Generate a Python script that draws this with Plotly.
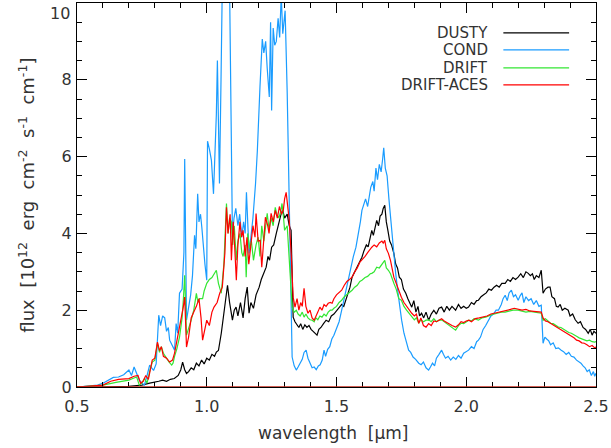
import plotly.graph_objects as go

# ---------------- data ----------------
cond = [(0.50,0.0),(0.55,0.02),(0.58,0.05),(0.60,0.10),(0.62,0.18),(0.64,0.25),(0.66,0.26),(0.68,0.32),(0.70,0.44),(0.71,0.30),(0.72,0.52),(0.73,0.35),(0.74,0.18),(0.75,0.10),(0.76,0.05),(0.77,0.30),(0.78,0.57),(0.795,0.43),(0.805,0.60),(0.815,1.87),(0.822,1.60),(0.83,1.85),(0.838,1.80),(0.845,1.45),(0.852,1.55),(0.857,1.22),(0.866,1.10),(0.876,0.96),(0.882,1.65),(0.888,1.40),(0.895,2.44),(0.905,2.55),(0.912,3.5),(0.915,5.94),(0.922,1.74),(0.93,2.1),(0.938,2.4),(0.945,2.9),(0.953,3.95),(0.958,3.6),(0.965,5.03),(0.970,4.3),(0.976,4.5),(0.981,4.16),(0.987,3.6),(0.993,3.2),(1.000,2.78),(1.003,6.4),(1.010,6.2),(1.018,5.9),(1.026,5.03),(1.032,6.0),(1.037,7.1),(1.041,8.5),(1.045,6.8),(1.049,5.3),(1.055,8.0),(1.062,11.5),(1.075,12.0),(1.087,11.0),(1.099,3.9),(1.105,4.4),(1.112,4.65),(1.12,4.2),(1.127,4.5),(1.135,3.9),(1.142,4.3),(1.148,4.0),(1.153,5.07),(1.158,4.4),(1.163,3.48),(1.170,3.9),(1.178,4.4),(1.188,5.3),(1.195,6.15),(1.205,7.8),(1.214,9.06),(1.220,8.7),(1.227,9.0),(1.233,8.3),(1.241,7.55),(1.246,9.5),(1.250,7.2),(1.256,9.35),(1.262,8.9),(1.268,9.0),(1.275,9.6),(1.281,9.1),(1.287,10.2),(1.293,9.2),(1.298,9.6),(1.302,9.8),(1.310,7.66),(1.329,0.78),(1.337,0.55),(1.345,0.44),(1.352,0.52),(1.36,0.62),(1.368,0.72),(1.375,0.90),(1.383,0.96),(1.39,0.75),(1.398,0.60),(1.406,0.50),(1.414,0.52),(1.422,0.45),(1.43,0.55),(1.437,0.58),(1.445,0.70),(1.452,0.96),(1.458,0.80),(1.466,0.98),(1.474,1.05),(1.482,1.25),(1.49,1.35),(1.502,1.56),(1.51,1.70),(1.52,2.00),(1.528,2.25),(1.536,2.52),(1.545,2.80),(1.555,3.10),(1.565,3.40),(1.575,3.64),(1.585,4.00),(1.592,4.30),(1.598,4.60),(1.605,4.75),(1.612,4.90),(1.62,4.70),(1.625,4.94),(1.632,5.20),(1.64,5.35),(1.645,5.10),(1.652,5.70),(1.658,5.40),(1.665,5.80),(1.672,5.60),(1.678,5.95),(1.682,6.23),(1.688,5.70),(1.695,5.50),(1.702,4.90),(1.709,4.34),(1.718,3.60),(1.728,2.96),(1.738,2.40),(1.745,2.00),(1.751,1.74),(1.76,1.40),(1.768,1.20),(1.778,0.96),(1.786,0.90),(1.795,0.78),(1.805,0.72),(1.817,0.62),(1.826,0.58),(1.835,0.65),(1.845,0.50),(1.855,0.44),(1.862,0.52),(1.87,0.62),(1.878,0.55),(1.885,0.75),(1.895,0.85),(1.905,0.96),(1.912,0.85),(1.92,0.75),(1.93,0.80),(1.94,0.70),(1.95,0.78),(1.96,0.72),(1.97,0.82),(1.98,0.75),(1.99,0.88),(2.0,0.92),(2.009,0.96),(2.02,1.05),(2.03,1.00),(2.04,1.18),(2.047,1.22),(2.055,1.30),(2.065,1.50),(2.075,1.60),(2.086,1.74),(2.095,1.85),(2.105,1.90),(2.115,2.00),(2.124,2.00),(2.135,2.15),(2.142,2.30),(2.15,2.39),(2.158,2.25),(2.165,2.45),(2.174,2.52),(2.182,2.35),(2.19,2.40),(2.2,2.26),(2.208,2.38),(2.215,2.45),(2.222,2.20),(2.23,2.35),(2.24,2.25),(2.25,2.30),(2.26,2.15),(2.27,2.25),(2.28,2.10),(2.289,2.13),(2.296,1.14),(2.303,1.30),(2.31,1.25),(2.318,1.20),(2.325,1.10),(2.335,1.15),(2.345,1.00),(2.355,1.02),(2.366,0.96),(2.375,0.92),(2.385,0.85),(2.395,0.90),(2.405,0.80),(2.415,0.78),(2.425,0.70),(2.435,0.65),(2.442,0.62),(2.45,0.55),(2.458,0.50),(2.466,0.40),(2.474,0.45),(2.482,0.30),(2.49,0.40),(2.495,0.28),(2.5,0.36)]

dusty = [(0.50,0),(0.60,0.0),(0.70,0.02),(0.75,0.05),(0.78,0.10),(0.80,0.12),(0.815,0.15),(0.83,0.18),(0.845,0.15),(0.86,0.20),(0.875,0.22),(0.89,0.30),(0.90,0.45),(0.907,0.65),(0.915,0.45),(0.922,0.35),(0.93,0.40),(0.94,0.50),(0.95,0.45),(0.96,0.62),(0.97,0.55),(0.98,0.70),(0.99,0.60),(1.00,0.75),(1.01,0.70),(1.02,0.85),(1.03,0.80),(1.037,0.91),(1.045,0.95),(1.056,1.40),(1.066,1.92),(1.073,2.30),(1.08,2.65),(1.088,2.20),(1.099,1.74),(1.106,2.00),(1.113,2.08),(1.12,1.85),(1.13,2.20),(1.14,1.80),(1.148,2.30),(1.156,2.60),(1.163,1.92),(1.17,2.20),(1.18,2.05),(1.19,2.40),(1.202,2.60),(1.21,2.80),(1.218,2.95),(1.229,3.12),(1.236,3.40),(1.242,3.30),(1.25,3.64),(1.258,3.70),(1.268,4.00),(1.275,4.20),(1.282,4.40),(1.287,4.52),(1.293,4.60),(1.30,4.40),(1.31,4.50),(1.318,4.20),(1.325,4.08),(1.333,1.82),(1.34,1.70),(1.348,1.60),(1.355,1.55),(1.362,1.65),(1.37,1.50),(1.378,1.62),(1.386,1.55),(1.394,1.60),(1.402,1.50),(1.41,1.45),(1.418,1.40),(1.425,1.35),(1.432,1.50),(1.44,1.55),(1.45,1.65),(1.46,1.74),(1.47,1.70),(1.48,1.85),(1.49,1.90),(1.502,2.00),(1.51,2.05),(1.52,2.15),(1.528,2.10),(1.536,2.26),(1.545,2.50),(1.552,2.60),(1.56,2.86),(1.57,3.00),(1.58,3.10),(1.59,3.25),(1.598,3.38),(1.606,3.55),(1.615,3.70),(1.622,3.65),(1.63,3.90),(1.636,4.08),(1.642,3.95),(1.65,4.25),(1.655,4.34),(1.662,4.20),(1.668,4.45),(1.675,4.50),(1.68,4.65),(1.686,4.73),(1.692,4.30),(1.698,4.08),(1.705,3.80),(1.712,3.70),(1.721,3.48),(1.728,3.20),(1.735,3.10),(1.742,2.86),(1.75,2.80),(1.758,2.55),(1.767,2.44),(1.775,2.30),(1.782,2.20),(1.79,2.08),(1.798,2.25),(1.806,1.95),(1.814,2.10),(1.82,1.85),(1.828,1.92),(1.836,1.80),(1.845,1.95),(1.855,1.74),(1.865,1.90),(1.875,2.00),(1.885,1.90),(1.895,2.05),(1.905,2.08),(1.915,1.95),(1.925,2.10),(1.935,2.00),(1.945,2.10),(1.959,2.00),(1.97,2.15),(1.98,2.05),(1.99,2.10),(2.0,2.05),(2.009,2.08),(2.02,2.20),(2.03,2.15),(2.04,2.25),(2.047,2.26),(2.057,2.35),(2.067,2.40),(2.077,2.45),(2.087,2.55),(2.097,2.52),(2.107,2.60),(2.117,2.65),(2.127,2.60),(2.137,2.70),(2.15,2.70),(2.16,2.80),(2.17,2.75),(2.18,2.85),(2.19,2.80),(2.2,2.86),(2.21,2.95),(2.22,2.85),(2.23,3.00),(2.239,2.96),(2.247,2.90),(2.255,2.95),(2.262,2.80),(2.27,2.90),(2.28,2.85),(2.289,3.04),(2.296,2.44),(2.305,2.55),(2.315,2.60),(2.323,2.60),(2.33,2.35),(2.34,2.30),(2.347,2.10),(2.354,2.08),(2.362,2.15),(2.37,2.00),(2.38,2.05),(2.393,2.00),(2.40,1.85),(2.41,1.90),(2.42,1.75),(2.431,1.66),(2.44,1.70),(2.45,1.55),(2.46,1.50),(2.47,1.40),(2.478,1.50),(2.485,1.35),(2.492,1.45),(2.5,1.40)]

drift = [(0.50,0),(0.55,0.02),(0.60,0.05),(0.65,0.12),(0.68,0.15),(0.70,0.18),(0.715,0.22),(0.73,0.26),(0.74,0.05),(0.75,0.10),(0.76,0.22),(0.77,0.10),(0.78,0.40),(0.79,0.65),(0.80,0.70),(0.81,1.14),(0.818,0.90),(0.825,1.05),(0.833,0.88),(0.84,0.80),(0.845,0.78),(0.855,0.65),(0.865,0.57),(0.87,0.62),(0.876,0.80),(0.885,1.00),(0.895,1.30),(0.905,1.80),(0.91,2.30),(0.915,2.91),(0.922,1.35),(0.93,1.50),(0.94,1.74),(0.95,2.00),(0.96,2.44),(0.966,2.20),(0.972,2.30),(0.984,2.30),(0.99,2.50),(1.00,2.70),(1.01,2.80),(1.02,2.85),(1.037,3.04),(1.045,2.70),(1.056,2.44),(1.066,3.20),(1.076,4.78),(1.082,4.00),(1.088,4.40),(1.095,4.30),(1.10,3.70),(1.106,4.20),(1.114,3.30),(1.12,3.80),(1.128,4.00),(1.135,3.50),(1.14,3.40),(1.148,3.70),(1.152,2.86),(1.158,4.00),(1.165,3.60),(1.172,3.80),(1.18,3.30),(1.19,3.70),(1.198,3.90),(1.205,3.40),(1.212,4.20),(1.22,3.80),(1.228,4.30),(1.233,4.52),(1.24,4.10),(1.248,4.40),(1.256,4.20),(1.264,4.68),(1.27,4.50),(1.278,4.40),(1.286,4.60),(1.29,4.78),(1.296,4.40),(1.30,4.08),(1.31,4.20),(1.318,3.20),(1.329,2.08),(1.337,1.95),(1.345,2.00),(1.352,1.90),(1.36,1.85),(1.368,1.95),(1.375,1.82),(1.382,1.90),(1.39,1.80),(1.398,1.75),(1.406,1.74),(1.414,1.70),(1.42,1.80),(1.428,1.75),(1.436,1.85),(1.444,1.82),(1.452,1.90),(1.46,1.85),(1.468,1.95),(1.476,2.00),(1.483,2.00),(1.49,2.05),(1.50,2.10),(1.51,2.20),(1.52,2.26),(1.53,2.35),(1.54,2.40),(1.55,2.45),(1.56,2.52),(1.57,2.60),(1.58,2.65),(1.59,2.75),(1.598,2.78),(1.61,2.85),(1.62,2.88),(1.63,2.95),(1.636,2.96),(1.645,3.00),(1.655,3.12),(1.665,3.10),(1.675,3.20),(1.68,3.25),(1.686,3.30),(1.692,3.10),(1.70,3.04),(1.708,2.95),(1.715,2.80),(1.721,2.70),(1.73,2.55),(1.74,2.30),(1.75,2.26),(1.76,2.10),(1.77,2.00),(1.78,1.92),(1.79,1.85),(1.80,1.75),(1.808,1.80),(1.817,1.66),(1.825,1.75),(1.835,1.70),(1.845,1.74),(1.855,1.75),(1.865,1.70),(1.875,1.78),(1.885,1.70),(1.895,1.74),(1.905,1.75),(1.915,1.70),(1.925,1.65),(1.935,1.60),(1.945,1.55),(1.959,1.48),(1.97,1.60),(1.98,1.66),(1.99,1.65),(2.0,1.70),(2.01,1.74),(2.02,1.72),(2.03,1.78),(2.047,1.74),(2.06,1.80),(2.075,1.82),(2.09,1.87),(2.105,1.90),(2.12,1.92),(2.135,1.95),(2.15,1.95),(2.165,1.97),(2.18,2.00),(2.2,2.00),(2.215,1.98),(2.23,1.95),(2.245,1.97),(2.26,1.95),(2.275,1.93),(2.289,1.92),(2.296,1.74),(2.305,1.78),(2.315,1.72),(2.325,1.66),(2.335,1.65),(2.345,1.60),(2.355,1.56),(2.365,1.55),(2.375,1.50),(2.385,1.45),(2.395,1.42),(2.405,1.40),(2.415,1.35),(2.425,1.32),(2.435,1.28),(2.445,1.25),(2.455,1.22),(2.465,1.20),(2.475,1.22),(2.485,1.18),(2.495,1.17),(2.5,1.18)]

drift_aces = [(0.50,0),(0.55,0.02),(0.58,0.05),(0.60,0.05),(0.63,0.15),(0.66,0.20),(0.70,0.22),(0.72,0.28),(0.735,0.30),(0.745,0.10),(0.755,0.15),(0.765,0.30),(0.775,0.20),(0.785,0.50),(0.79,0.70),(0.80,0.75),(0.81,1.17),(0.818,0.95),(0.825,1.05),(0.833,0.80),(0.845,0.75),(0.857,0.65),(0.868,0.70),(0.876,0.88),(0.888,1.30),(0.90,1.70),(0.91,2.10),(0.915,2.34),(0.922,1.04),(0.93,1.30),(0.94,1.80),(0.95,1.95),(0.96,2.10),(0.97,2.30),(0.978,1.80),(0.984,1.22),(0.992,1.45),(1.00,1.74),(1.01,1.60),(1.02,1.95),(1.028,2.08),(1.04,2.20),(1.05,2.44),(1.06,2.60),(1.07,3.50),(1.076,4.68),(1.082,4.00),(1.09,4.50),(1.095,3.30),(1.102,4.30),(1.108,3.60),(1.114,2.78),(1.12,3.70),(1.128,4.30),(1.134,3.90),(1.14,4.08),(1.148,3.40),(1.155,3.90),(1.162,3.20),(1.17,3.70),(1.178,4.20),(1.186,3.90),(1.19,4.52),(1.198,3.80),(1.206,3.82),(1.212,3.12),(1.22,3.90),(1.226,4.42),(1.235,4.20),(1.24,4.00),(1.248,4.52),(1.256,4.30),(1.264,4.60),(1.272,4.40),(1.28,4.70),(1.288,4.50),(1.295,4.60),(1.30,4.90),(1.306,5.07),(1.312,4.60),(1.318,4.34),(1.325,3.50),(1.333,2.34),(1.34,2.08),(1.348,2.30),(1.355,2.00),(1.362,2.20),(1.368,2.10),(1.375,2.57),(1.382,2.10),(1.39,1.92),(1.398,2.00),(1.406,1.80),(1.414,1.74),(1.42,1.85),(1.428,1.95),(1.436,2.08),(1.444,2.00),(1.452,2.15),(1.46,2.10),(1.468,2.18),(1.476,2.20),(1.483,2.18),(1.49,2.30),(1.50,2.40),(1.51,2.45),(1.52,2.52),(1.53,2.65),(1.54,2.75),(1.55,2.80),(1.56,2.86),(1.57,3.00),(1.58,3.10),(1.59,3.25),(1.598,3.30),(1.61,3.40),(1.62,3.50),(1.63,3.60),(1.636,3.64),(1.645,3.70),(1.655,3.65),(1.665,3.75),(1.675,3.80),(1.68,3.75),(1.686,3.82),(1.692,3.60),(1.70,3.48),(1.708,3.30),(1.715,3.10),(1.721,2.86),(1.73,2.70),(1.74,2.50),(1.75,2.34),(1.76,2.20),(1.77,2.10),(1.78,2.00),(1.79,1.92),(1.80,1.85),(1.808,1.90),(1.817,1.66),(1.825,1.80),(1.835,1.60),(1.845,1.56),(1.855,1.65),(1.865,1.60),(1.875,1.72),(1.885,1.70),(1.895,1.74),(1.905,1.78),(1.915,1.72),(1.925,1.68),(1.935,1.62),(1.945,1.60),(1.959,1.56),(1.97,1.62),(1.98,1.70),(1.99,1.68),(2.0,1.72),(2.01,1.74),(2.02,1.70),(2.035,1.78),(2.05,1.80),(2.065,1.82),(2.08,1.85),(2.095,1.90),(2.11,1.92),(2.125,1.96),(2.14,1.98),(2.155,2.00),(2.17,2.02),(2.185,2.05),(2.2,2.03),(2.215,2.00),(2.23,2.02),(2.245,1.98),(2.26,1.97),(2.275,1.95),(2.289,1.95),(2.296,1.80),(2.305,1.72),(2.315,1.70),(2.325,1.66),(2.335,1.62),(2.345,1.58),(2.355,1.52),(2.365,1.50),(2.375,1.45),(2.385,1.40),(2.395,1.38),(2.405,1.32),(2.415,1.28),(2.425,1.22),(2.435,1.20),(2.445,1.15),(2.455,1.14),(2.465,1.10),(2.475,1.05),(2.485,1.08),(2.495,1.02),(2.5,1.04)]

series_names = ["DUSTY", "COND", "DRIFT", "DRIFT-ACES"]
series_data = [dusty, cond, drift, drift_aces]
series_colors = ["#000000", "#1a9cff", "#33e633", "#ff0000"]

x_ticks = [0.5, 1.0, 1.5, 2.0, 2.5]
y_ticks = [0, 2, 4, 6, 8, 10]

SP = " \u00a0"  # wide word gap as in the reference
x_title = "wavelength" + SP + "[μm]"
y_title = SP.join(["flux", "[10<sup>12</sup>", "erg", "cm<sup>-2</sup>", "s<sup>-1</sup>", "cm<sup>-1</sup>]"])

# ---------------- figure ----------------
FONT = "DejaVu Sans"
TXT = "#333333"
fig = go.Figure()
for name, data, col in zip(series_names, series_data, series_colors):
    fig.add_trace(go.Scatter(
        x=[p[0] for p in data], y=[p[1] for p in data], mode="lines", name=name,
        line=dict(color=col, width=1.2), showlegend=False))

# zero line along the bottom axis (red)
fig.add_shape(type="line", xref="paper", yref="y", x0=0, x1=1, y0=0, y1=0,
              line=dict(color="#c0281a", width=1.5))

L, R, T, B = 77, 598, 2, 387
W, H = R - L, B - T

# legend: text on the left, line sample on the right
leg_y = [32, 49, 67, 84]
for name, col, py in zip(series_names, series_colors, leg_y):
    yp = (B - py) / H
    fig.add_annotation(xref="paper", yref="paper", x=(492 - L) / W, y=yp,
                       text=name, showarrow=False, xanchor="right", yanchor="middle",
                       font=dict(family=FONT, size=15, color=TXT))
    fig.add_shape(type="line", xref="paper", yref="paper",
                  x0=(505 - L) / W, x1=(571 - L) / W, y0=yp, y1=yp,
                  line=dict(color=col, width=1.3))

# top y tick label sits just inside the page top
fig.add_annotation(xref="paper", yref="paper", x=-5 / W, y=1.0, text=str(y_ticks[-1]),
                   showarrow=False, xanchor="right", yanchor="top", yshift=1,
                   font=dict(family=FONT, size=16, color=TXT))

# axis titles
fig.add_annotation(xref="paper", yref="paper", x=(27 - L) / W, y=(B - 195) / H,
                   text=y_title, textangle=-90, showarrow=False,
                   xanchor="center", yanchor="middle",
                   font=dict(family=FONT, size=18, color=TXT))
fig.add_annotation(xref="paper", yref="paper", x=(334 - L) / W, y=-(433 - B) / H,
                   text=x_title, showarrow=False, xanchor="center", yanchor="middle",
                   font=dict(family=FONT, size=17, color=TXT))

axis_common = dict(showline=True, linecolor="black", linewidth=1, mirror="allticks",
                   ticks="inside", tickcolor="black", showgrid=False, zeroline=False,
                   tickfont=dict(family=FONT, size=16, color=TXT))

fig.update_xaxes(range=[0.5, 2.5], tickvals=x_ticks, ticktext=[f"{v:.1f}" for v in x_ticks],
                 ticklen=10, ticklabelstandoff=5,
                 minor=dict(dtick=0.1, ticklen=5, ticks="inside", tickcolor="black"),
                 **axis_common)
fig.update_yaxes(range=[0, 10], tickvals=y_ticks,
                 ticktext=[str(v) for v in y_ticks[:-1]] + [""],
                 ticklen=10, ticklabelstandoff=1,
                 minor=dict(dtick=0.5, ticklen=5, ticks="inside", tickcolor="black"),
                 **axis_common)

fig.update_layout(width=611, height=448, margin=dict(l=L, r=611 - R, t=T, b=448 - B),
                  paper_bgcolor="white", plot_bgcolor="white", showlegend=False)

fig.write_html("out.html")
